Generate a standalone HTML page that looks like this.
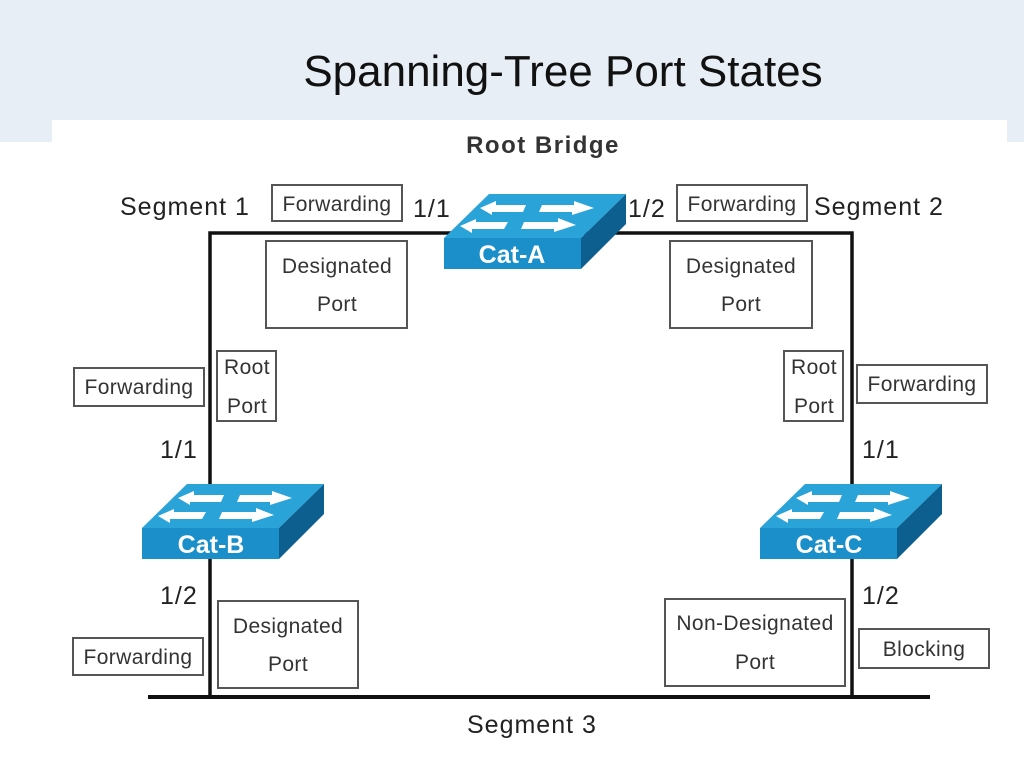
<!DOCTYPE html>
<html><head><meta charset="utf-8"><style>
body{margin:0;width:1024px;height:768px;overflow:hidden;background:#fff;font-family:"Liberation Sans",sans-serif}
</style></head><body>
<svg width="1024" height="768" xmlns="http://www.w3.org/2000/svg" font-family="Liberation Sans, sans-serif">
<defs>
<g id="sw">
 <polygon points="0,44 45,0 182,0 137,44" fill="#2aa3d8"/>
 <polygon points="137,44 182,0 182,30 137,75" fill="#0c5f8f"/>
 <rect x="0" y="44" width="137" height="31" fill="#1b8fc9"/>
 <g fill="#fff">
  <polygon points="36,14 52,7 52,11 82,11 79,18 48,18 48,21"/>
  <polygon points="98,11 130,11 130,7 150,14 128,21 128,18 95,18"/>
  <polygon points="16,32 32,25 32,28 64,28 60,35 28,35 28,39"/>
  <polygon points="80,28 114,28 114,24 132,31 110,38 110,35 77,35"/>
 </g>
</g>
</defs>
<rect x="0" y="0" width="1024" height="142" fill="#e8eef6"/>
<rect x="52" y="120" width="955" height="30" fill="#fff"/>
<text x="563" y="86" font-size="44" text-anchor="middle" fill="#111">Spanning-Tree Port States</text>
<text x="543" y="153" font-size="24" font-weight="bold" letter-spacing="1.5" text-anchor="middle" fill="#333">Root Bridge</text>
<g stroke="#111" fill="none">
 <polyline points="210,697 210,233 852,233 852,697" stroke-width="3.5"/>
 <line x1="148" y1="697" x2="930" y2="697" stroke-width="4"/>
</g>
<use href="#sw" x="444" y="194"/>
<use href="#sw" x="142" y="484"/>
<use href="#sw" x="760" y="484"/>
<g fill="#fff" font-size="25" font-weight="bold" text-anchor="middle">
 <text x="512" y="263">Cat-A</text>
 <text x="211" y="553">Cat-B</text>
 <text x="829" y="553">Cat-C</text>
</g>
<g fill="#fff" stroke="#555" stroke-width="2">
 <rect x="272" y="185" width="130" height="36"/>
 <rect x="677" y="185" width="130" height="36"/>
 <rect x="266" y="241" width="141" height="87"/>
 <rect x="670" y="241" width="142" height="87"/>
 <rect x="217" y="351" width="59" height="70"/>
 <rect x="784" y="351" width="59" height="70"/>
 <rect x="74" y="368" width="130" height="38"/>
 <rect x="857" y="365" width="130" height="38"/>
 <rect x="218" y="601" width="140" height="87"/>
 <rect x="665" y="599" width="180" height="87"/>
 <rect x="73" y="638" width="130" height="37"/>
 <rect x="859" y="629" width="130" height="39"/>
</g>
<g fill="#333" font-size="21" letter-spacing="0.4" text-anchor="middle">
 <text x="337" y="211">Forwarding</text>
 <text x="742" y="211">Forwarding</text>
 <text x="337" y="273">Designated</text><text x="337" y="311">Port</text>
 <text x="741" y="273">Designated</text><text x="741" y="311">Port</text>
 <text x="247" y="374">Root</text><text x="247" y="413">Port</text>
 <text x="814" y="374">Root</text><text x="814" y="413">Port</text>
 <text x="139" y="394">Forwarding</text>
 <text x="922" y="391">Forwarding</text>
 <text x="288" y="633">Designated</text><text x="288" y="671">Port</text>
 <text x="755" y="630">Non-Designated</text><text x="755" y="669">Port</text>
 <text x="138" y="664">Forwarding</text>
 <text x="924" y="656">Blocking</text>
</g>
<g fill="#222" font-size="25" letter-spacing="1">
 <text x="120" y="215">Segment 1</text>
 <text x="814" y="215">Segment 2</text>
 <text x="467" y="733">Segment 3</text>
 <text x="413" y="217">1/1</text>
 <text x="628" y="217">1/2</text>
 <text x="160" y="458">1/1</text>
 <text x="862" y="458">1/1</text>
 <text x="160" y="604">1/2</text>
 <text x="862" y="604">1/2</text>
</g>
</svg>
</body></html>
